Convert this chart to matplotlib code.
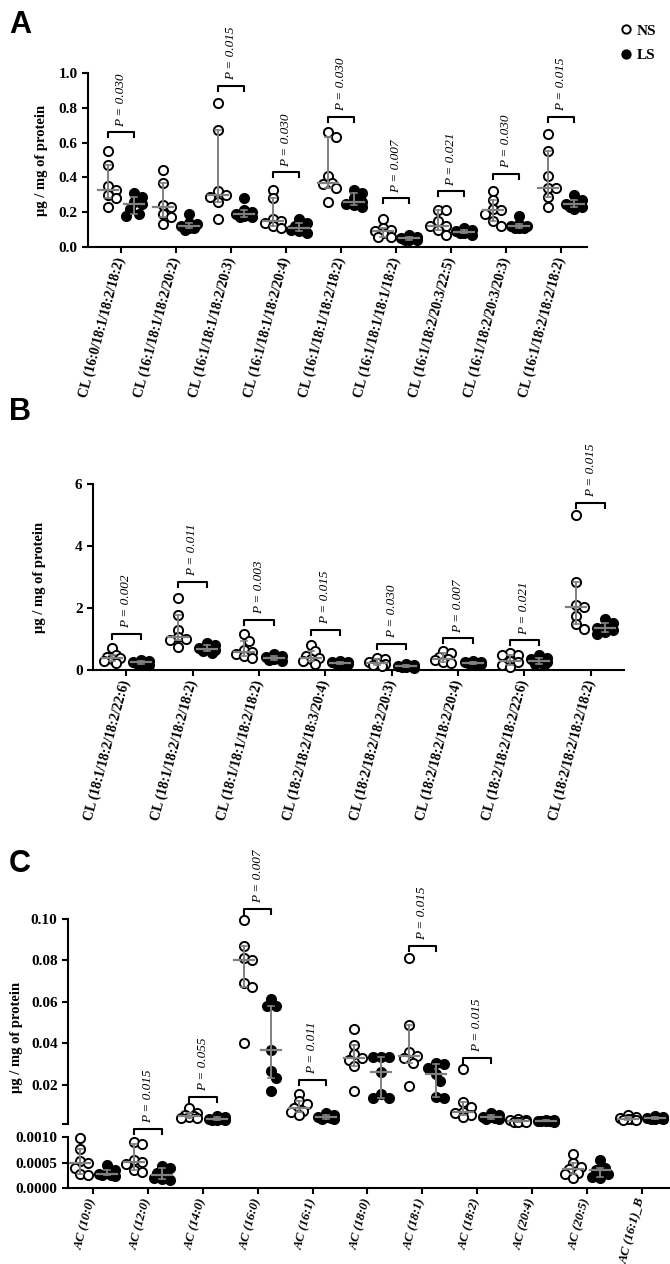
import numpy as np
import matplotlib
matplotlib.use("Agg")
import matplotlib.pyplot as plt
from matplotlib.lines import Line2D

plt.rcParams['font.family'] = ['Liberation Serif', 'DejaVu Serif']
plt.rcParams['font.weight'] = 'bold'
plt.rcParams['axes.linewidth'] = 1.5
plt.rcParams['xtick.major.width'] = 1.5
plt.rcParams['ytick.major.width'] = 1.5
plt.rcParams['xtick.major.size'] = 4
plt.rcParams['ytick.major.size'] = 4

# ---------------- data ----------------
A_labels = ["CL (16:0/18:1/18:2/18:2)", "CL (16:1/18:1/18:2/20:2)", "CL (16:1/18:1/18:2/20:3)",
            "CL (16:1/18:1/18:2/20:4)", "CL (16:1/18:1/18:2/18:2)", "CL (16:1/18:1/18:1/18:2)",
            "CL (16:1/18:2/20:3/22:5)", "CL (16:1/18:2/20:3/20:3)", "CL (16:1/18:2/18:2/18:2)"]
A_ns = [[0.55, 0.47, 0.35, 0.33, 0.30, 0.28, 0.23],
        [0.44, 0.37, 0.24, 0.23, 0.19, 0.17, 0.13],
        [0.83, 0.67, 0.32, 0.30, 0.29, 0.26, 0.16],
        [0.33, 0.28, 0.16, 0.15, 0.14, 0.12, 0.11],
        [0.66, 0.63, 0.41, 0.37, 0.36, 0.34, 0.26],
        [0.16, 0.11, 0.10, 0.09, 0.08, 0.06, 0.06],
        [0.21, 0.21, 0.15, 0.12, 0.12, 0.10, 0.07],
        [0.32, 0.27, 0.22, 0.21, 0.19, 0.15, 0.12],
        [0.65, 0.55, 0.41, 0.34, 0.34, 0.29, 0.23]]
A_ls = [[0.31, 0.29, 0.26, 0.245, 0.22, 0.19, 0.18],
        [0.19, 0.14, 0.13, 0.12, 0.11, 0.11, 0.10],
        [0.28, 0.21, 0.20, 0.19, 0.18, 0.17, 0.17],
        [0.16, 0.14, 0.12, 0.11, 0.10, 0.09, 0.08],
        [0.33, 0.31, 0.28, 0.26, 0.25, 0.24, 0.23],
        [0.07, 0.06, 0.05, 0.05, 0.04, 0.04, 0.04],
        [0.11, 0.10, 0.09, 0.085, 0.08, 0.08, 0.07],
        [0.18, 0.13, 0.12, 0.12, 0.11, 0.11, 0.11],
        [0.30, 0.27, 0.25, 0.245, 0.23, 0.23, 0.22]]
A_p = ["0.030", None, "0.015", "0.030", "0.030", "0.007", "0.021", "0.030", "0.015"]
A_brk = [0.66, None, 0.925, 0.43, 0.75, 0.28, 0.32, 0.42, 0.75]
A_yticks = [0.0, 0.2, 0.4, 0.6, 0.8, 1.0]

B_labels = ["CL (18:1/18:2/18:2/22:6)", "CL (18:1/18:2/18:2/18:2)", "CL (18:1/18:1/18:2/18:2)",
            "CL (18:2/18:2/18:3/20:4)", "CL (18:2/18:2/18:2/20:3)", "CL (18:2/18:2/18:2/20:4)",
            "CL (18:2/18:2/18:2/22:6)", "CL (18:2/18:2/18:2/18:2)"]
B_ns = [[0.70, 0.50, 0.42, 0.38, 0.35, 0.28, 0.22],
        [2.32, 1.78, 1.30, 1.05, 1.00, 0.98, 0.74],
        [1.15, 0.95, 0.65, 0.58, 0.52, 0.45, 0.40],
        [0.82, 0.60, 0.45, 0.38, 0.36, 0.28, 0.20],
        [0.40, 0.35, 0.27, 0.22, 0.18, 0.15, 0.12],
        [0.62, 0.55, 0.42, 0.36, 0.32, 0.27, 0.22],
        [0.55, 0.50, 0.48, 0.30, 0.25, 0.15, 0.10],
        [5.00, 2.84, 2.10, 2.03, 1.74, 1.48, 1.32]]
B_ls = [[0.33, 0.30, 0.27, 0.25, 0.22, 0.19, 0.17],
        [0.88, 0.80, 0.72, 0.68, 0.65, 0.60, 0.56],
        [0.52, 0.46, 0.42, 0.40, 0.36, 0.33, 0.30],
        [0.30, 0.27, 0.25, 0.23, 0.22, 0.20, 0.18],
        [0.18, 0.15, 0.13, 0.12, 0.10, 0.09, 0.08],
        [0.30, 0.27, 0.25, 0.24, 0.22, 0.20, 0.19],
        [0.47, 0.40, 0.35, 0.28, 0.25, 0.20, 0.15],
        [1.65, 1.52, 1.40, 1.34, 1.30, 1.22, 1.15]]
B_p = ["0.002", "0.011", "0.003", "0.015", "0.030", "0.007", "0.021", "0.015"]
B_brk = [1.16, 2.84, 1.62, 1.29, 0.84, 1.03, 0.96, 5.39]
B_yticks = [0, 2, 4, 6]

C_labels = ["AC (10:0)", "AC (12:0)", "AC (14:0)", "AC (16:0)", "AC (16:1)", "AC (18:0)",
            "AC (18:1)", "AC (18:2)", "AC (20:4)", "AC (20:5)", "AC (16:1)_B"]
C_ns = [[0.00098, 0.00077, 0.00052, 0.00049, 0.00040, 0.00027, 0.00025],
        [0.00090, 0.00087, 0.00055, 0.00051, 0.00048, 0.00035, 0.00031],
        [0.0088, 0.0065, 0.0055, 0.0048, 0.0045, 0.0040, 0.0038],
        [0.0995, 0.087, 0.081, 0.080, 0.069, 0.067, 0.040],
        [0.0157, 0.012, 0.0105, 0.0085, 0.0075, 0.0068, 0.0052],
        [0.047, 0.039, 0.035, 0.033, 0.032, 0.029, 0.017],
        [0.081, 0.049, 0.036, 0.0340, 0.033, 0.0305, 0.0195],
        [0.0275, 0.0115, 0.0090, 0.0070, 0.0062, 0.0052, 0.0045],
        [0.0035, 0.0030, 0.0028, 0.0025, 0.0022, 0.0020, 0.0018],
        [0.00066, 0.00049, 0.00042, 0.00037, 0.00030, 0.00027, 0.00020],
        [0.0052, 0.0045, 0.0040, 0.0036, 0.0033, 0.0030, 0.0028]]
C_ls = [[0.00045, 0.00035, 0.00030, 0.00028, 0.00026, 0.00025, 0.00024],
        [0.00043, 0.00040, 0.00030, 0.00025, 0.00020, 0.00017, 0.00015],
        [0.0050, 0.0042, 0.0036, 0.0032, 0.0030, 0.0028, 0.0027],
        [0.0615, 0.058, 0.0578, 0.0365, 0.0265, 0.023, 0.017],
        [0.0062, 0.0052, 0.0045, 0.0042, 0.0038, 0.0035, 0.0033],
        [0.0335, 0.0335, 0.0333, 0.026, 0.0155, 0.0135, 0.0135],
        [0.0305, 0.030, 0.028, 0.025, 0.022, 0.014, 0.0135],
        [0.0065, 0.0055, 0.0045, 0.0042, 0.0038, 0.0035, 0.0033],
        [0.0030, 0.0028, 0.0026, 0.0025, 0.0024, 0.0023, 0.0022],
        [0.00054, 0.00040, 0.00036, 0.00035, 0.00028, 0.00022, 0.00019],
        [0.0048, 0.0043, 0.0040, 0.0037, 0.0035, 0.0034, 0.0033]]
C_p = [None, "0.015", "0.055", "0.007", "0.011", None, "0.015", "0.015", None, None, None]
C_brk = [None, 0.00116, 0.0142, 0.105, 0.0224, None, 0.087, 0.033, None, None, None]
C_top_yticks = [0.02, 0.04, 0.06, 0.08, 0.10]
C_bot_yticks = [0.0, 0.0005, 0.0010]

# ---------------- figure ----------------
W, H = 670, 1264
fig = plt.figure(figsize=(W / 100, H / 100), dpi=100)
GRAY = '#808080'
MS = 6.6
MEW = 1.4


def px_axes(l, r, top, bot):
    return fig.add_axes([l / W, 1 - bot / H, (r - l) / W, (bot - top) / H])


def px2data_x(ax, px):
    return px / (ax.get_position().width * W) * (ax.get_xlim()[1] - ax.get_xlim()[0])


def px2data_y(ax, px):
    return px / (ax.get_position().height * H) * (ax.get_ylim()[1] - ax.get_ylim()[0])


def swarm(ax, xc, vals, dpx=7.5):
    vals = np.asarray(vals, float)
    pts = ax.transData.transform(np.column_stack([np.full(len(vals), xc), vals]))
    x0 = pts[0, 0]
    ys = pts[:, 1]
    order = np.argsort(-vals)
    placed = []
    xs = np.zeros(len(vals))
    cands = [0, 4.5, -4.5, 8, -8]
    for i in order:
        best, bestd = 0.0, -1.0
        for c in cands:
            cand = x0 + c
            d = min([np.hypot(cand - px, ys[i] - py) for px, py in placed] or [1e9])
            if d >= dpx:
                best = cand
                break
            if d > bestd:
                best, bestd = cand, d
        placed.append((best, ys[i]))
        xs[i] = best
    return ax.transData.inverted().transform(np.column_stack([xs, ys]))[:, 0]


def group(ax, xc, vals, filled):
    xs = swarm(ax, xc, vals)
    ax.plot(xs, vals, 'o', ls='', ms=MS, mew=MEW, mec='black',
            mfc='black' if filled else 'white', clip_on=False, zorder=3)
    med = np.median(vals)
    q1, q3 = np.percentile(vals, [25, 75], method='weibull')
    hw = px2data_x(ax, 10)
    cw = px2data_x(ax, 3)
    ax.plot([xc, xc], [q1, q3], color=GRAY, lw=1.4, zorder=4, clip_on=False)
    ax.plot([xc - hw, xc + hw], [med, med], color=GRAY, lw=1.6, zorder=4, clip_on=False)
    for q in (q1, q3):
        ax.plot([xc - cw, xc + cw], [q, q], color=GRAY, lw=1.2, zorder=4, clip_on=False)


def bracket(ax, x1, x2, y, p):
    leg = px2data_y(ax, 5)
    ax.plot([x1, x1, x2, x2], [y - leg, y, y, y - leg], color='black', lw=1.5,
            clip_on=False, zorder=5)
    ax.annotate(f"P = {p}", xy=((x1 + x2) / 2, y), xytext=(0, 4), textcoords='offset points',
                rotation=90, ha='center', va='bottom', fontsize=9.5, fontstyle='italic',
                fontweight='normal', annotation_clip=False)


def style(ax):
    for s in ('top', 'right'):
        ax.spines[s].set_visible(False)
    ax.tick_params(labelsize=11, direction='out')


def draw_panel(ax, ns, ls, p, brk, off):
    for i, (a, b) in enumerate(zip(ns, ls)):
        group(ax, i - off, a, False)
        group(ax, i + off, b, True)
        if p[i] is not None:
            bracket(ax, i - off, i + off, brk[i], p[i])


def set_xlabels(ax, labels, italic=False, size=10):
    ax.set_xticks(range(len(labels)))
    ax.set_xticklabels(labels, rotation=75, ha='right', va='center', rotation_mode='anchor',
                       fontsize=size, fontweight='bold', fontstyle='italic' if italic else 'normal')


# Panel A
axA = px_axes(88, 587, 73, 247)
axA.set_xlim(-0.6, 8.47)
axA.set_ylim(0, 1.0)
style(axA)
axA.set_yticks(A_yticks)
axA.set_yticklabels([f"{v:.1f}" for v in A_yticks])
set_xlabels(axA, A_labels)
draw_panel(axA, A_ns, A_ls, A_p, A_brk, 0.24)

# Panel B
axB = px_axes(93, 624, 484, 670)
axB.set_xlim(-0.5, 7.5)
axB.set_ylim(0, 6)
style(axB)
axB.set_yticks(B_yticks)
axB.set_yticklabels([str(v) for v in B_yticks])
set_xlabels(axB, B_labels)
draw_panel(axB, B_ns, B_ls, B_p, B_brk, 0.22)

# Panel C (broken axis)
axCt = px_axes(68, 669, 919, 1124)
axCb = px_axes(68, 669, 1137, 1188)
for ax in (axCt, axCb):
    ax.set_xlim(-0.46, 10.5)
    style(ax)
axCt.set_ylim(0.001, 0.10)
axCb.set_ylim(0, 0.001)
axCt.spines['bottom'].set_visible(False)
axCt.tick_params(axis='x', bottom=False, labelbottom=False)
axCt.set_yticks([0.001] + C_top_yticks)
axCt.set_yticklabels([""] + [f"{v:.2f}" for v in C_top_yticks])
axCb.set_yticks(C_bot_yticks)
axCb.set_yticklabels([f"{v:.4f}" for v in C_bot_yticks])
set_xlabels(axCb, C_labels, italic=True, size=9.3)
offC = 0.25
for i, (a, b) in enumerate(zip(C_ns, C_ls)):
    ax = axCt if max(max(a), max(b)) >= 0.001 else axCb
    group(ax, i - offC, a, False)
    group(ax, i + offC, b, True)
    if C_p[i] is not None:
        bracket(ax, i - offC, i + offC, C_brk[i], C_p[i])

# y labels
ylab = "μg / mg of protein"
fig.text(42 / W, 1 - 160 / H, ylab, rotation=90, ha='center', va='center', fontsize=10.5, fontweight='bold')
fig.text(40 / W, 1 - 577 / H, ylab, rotation=90, ha='center', va='center', fontsize=10.5, fontweight='bold')
fig.text(17 / W, 1 - 1037 / H, ylab, rotation=90, ha='center', va='center', fontsize=10.5, fontweight='bold')

# panel letters
for lab, y in (("A", 10), ("B", 397), ("C", 849)):
    fig.text(9 / W, 1 - y / H, lab, ha='left', va='top', fontsize=22, fontweight='bold',
             family=['Liberation Sans', 'DejaVu Sans'])

# legend
handles = [Line2D([], [], marker='o', ls='', ms=6, mew=1.4, mec='black', mfc='white', label='NS'),
           Line2D([], [], marker='o', ls='', ms=6, mew=1.4, mec='black', mfc='black', label='LS')]
fig.legend(handles=handles, loc='upper right', bbox_to_anchor=(1.0, 0.992), frameon=False,
           handlelength=0.6, handletextpad=0.4, labelspacing=0.7,
           prop=dict(weight='bold', size=11, family='Liberation Serif'))

fig.savefig("out.png", dpi=100)
